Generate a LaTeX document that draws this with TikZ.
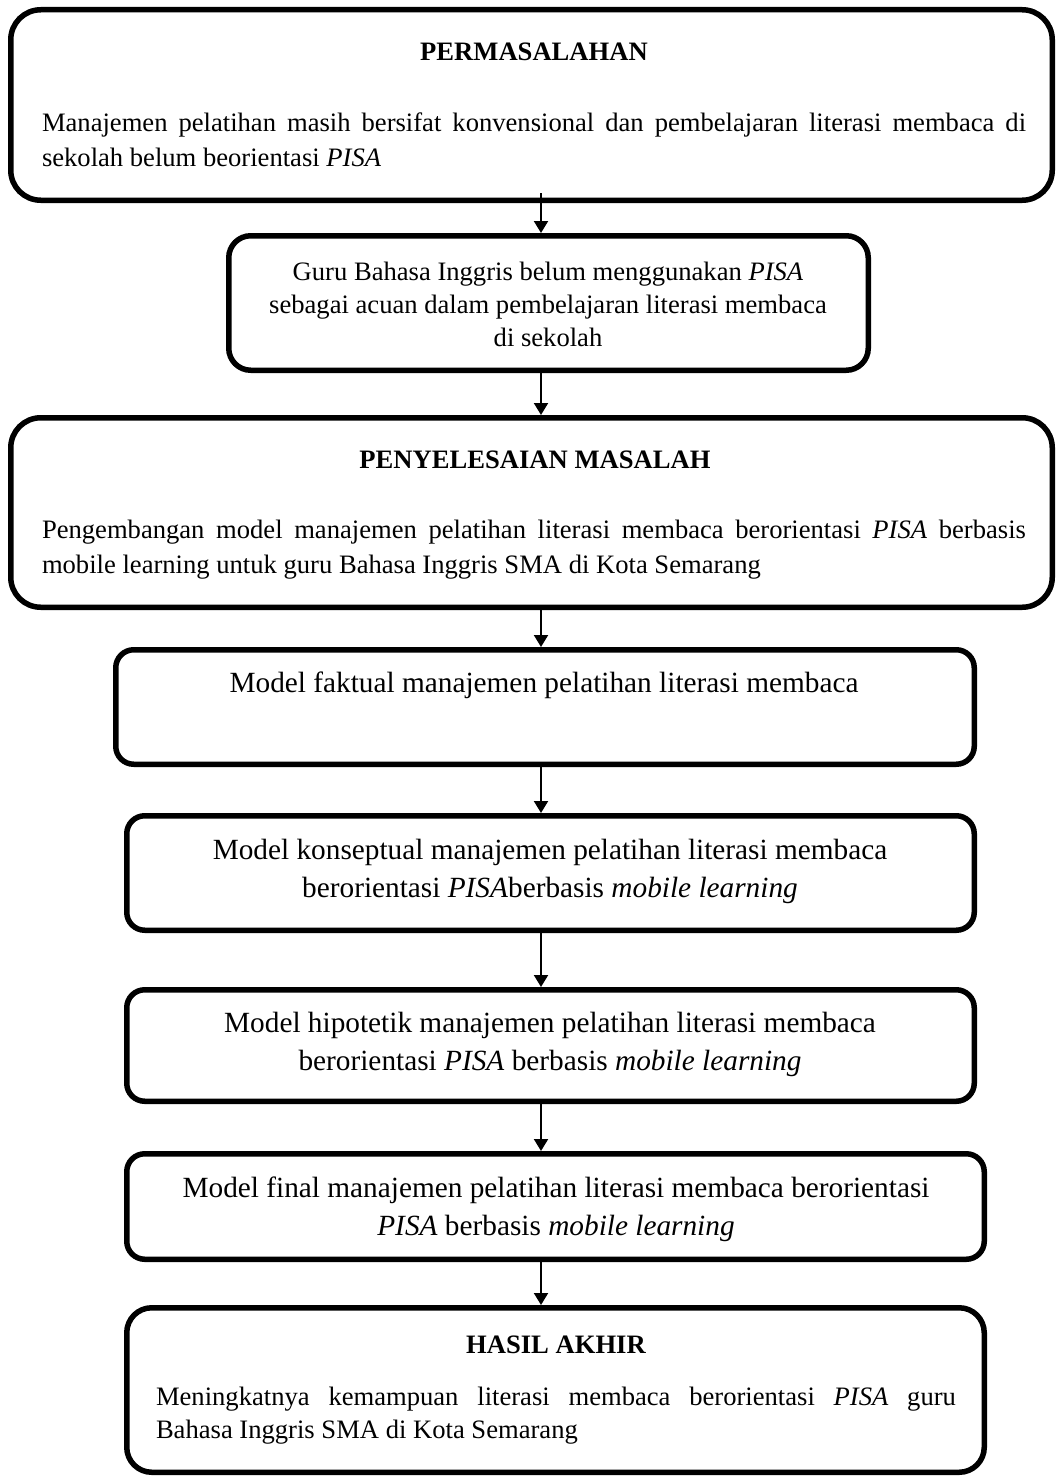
\documentclass[tikz,border=0pt]{standalone}
\usepackage{fontspec}
\setmainfont{Liberation Serif}
\usetikzlibrary{arrows.meta,calc}
\hyphenpenalty=10000
\exhyphenpenalty=10000
\begin{document}
\tikzset{
  box/.style={draw, line width=2.75pt, rectangle, inner sep=0pt},
  smalltext/.style={font=\fontsize{13.3pt}{17.5pt}\selectfont, inner sep=0pt},
  tighttext/.style={font=\fontsize{13.3pt}{16.5pt}\selectfont, inner sep=0pt},
  bigtext/.style={font=\fontsize{14.65pt}{19pt}\selectfont, inner sep=0pt, align=center},
  headtext/.style={font=\fontsize{13.3pt}{16pt}\selectfont\bfseries, inner sep=0pt},
  arr/.style={-{Triangle[width=7pt,length=6pt]}, line width=1pt},
}
\begin{tikzpicture}[x=0.5pt,y=-0.5pt]
\useasboundingbox (0,0) rectangle (1055,1477);

% boxes
\node[box, rounded corners=15pt, minimum width=520.75pt, minimum height=95.25pt] (b1) at (531.5,105) {};
\node[box, rounded corners=11pt, minimum width=319.75pt, minimum height=67.25pt] (b2) at (548.5,303) {};
\node[box, rounded corners=15pt, minimum width=520.75pt, minimum height=94.75pt] (b3) at (531.5,512.5) {};
\node[box, rounded corners=9pt, minimum width=429.25pt, minimum height=57.25pt] (b4) at (545,707) {};
\node[box, rounded corners=9pt, minimum width=423.75pt, minimum height=57.25pt] (b5) at (550.5,873) {};
\node[box, rounded corners=9pt, minimum width=423.75pt, minimum height=55.75pt] (b6) at (550.5,1045.5) {};
\node[box, rounded corners=9pt, minimum width=428.75pt, minimum height=52.75pt] (b7) at (555.5,1206.5) {};
\node[box, rounded corners=12.5pt, minimum width=428.75pt, minimum height=82.25pt] (b8) at (555.5,1390) {};

% texts
\node[headtext] (h1) at (534,52) {PERMASALAHAN};
\node[smalltext, text width=492pt, align=justify] (t1) at (534,139.5)
  {Manajemen pelatihan masih bersifat konvensional dan pembelajaran literasi membaca di\linebreak sekolah belum beorientasi \textit{PISA}};

\node[tighttext, align=center] (t2) at (548,304)
  {Guru Bahasa Inggris belum menggunakan \textit{PISA}\\sebagai acuan dalam pembelajaran literasi membaca\\di sekolah};

\node[headtext] (h3) at (535,460) {PENYELESAIAN MASALAH};
\node[smalltext, text width=492pt, align=justify] (t3) at (534,549.5)
  {Pengembangan model manajemen pelatihan literasi membaca berorientasi \textit{PISA} berbasis\linebreak mobile learning untuk guru Bahasa Inggris SMA di Kota Semarang};

\node[bigtext] (t4) at (544,685) {Model faktual manajemen pelatihan literasi membaca};

\node[bigtext] (t5) at (550,871)
  {Model konseptual manajemen pelatihan literasi membaca\\berorientasi \textit{PISA}berbasis \textit{mobile learning}};

\node[bigtext] (t6) at (550,1044.5)
  {Model hipotetik manajemen pelatihan literasi membaca\\berorientasi \textit{PISA} berbasis \textit{mobile learning}};

\node[bigtext] (t7) at (556,1209)
  {Model final manajemen pelatihan literasi membaca berorientasi\\\textit{PISA} berbasis \textit{mobile learning}};

\node[headtext] (h8) at (556,1345) {HASIL AKHIR};
\node[tighttext, text width=400pt, align=justify] (t8) at (556,1415.5)
  {Meningkatnya kemampuan literasi membaca berorientasi \textit{PISA} guru\linebreak Bahasa Inggris SMA di Kota Semarang};

% connectors
\coordinate (ax) at (541,0);
\draw[arr] ($(b1.south -| ax)+(0,-10)$) -- (b2.north -| ax);
\draw[arr] (b2.south -| ax) -- (b3.north -| ax);
\draw[arr] (b3.south -| ax) -- (b4.north -| ax);
\draw[arr] (b4.south -| ax) -- (b5.north -| ax);
\draw[arr] (b5.south -| ax) -- (b6.north -| ax);
\draw[arr] (b6.south -| ax) -- (b7.north -| ax);
\draw[arr] (b7.south -| ax) -- (b8.north -| ax);
\end{tikzpicture}
\end{document}
